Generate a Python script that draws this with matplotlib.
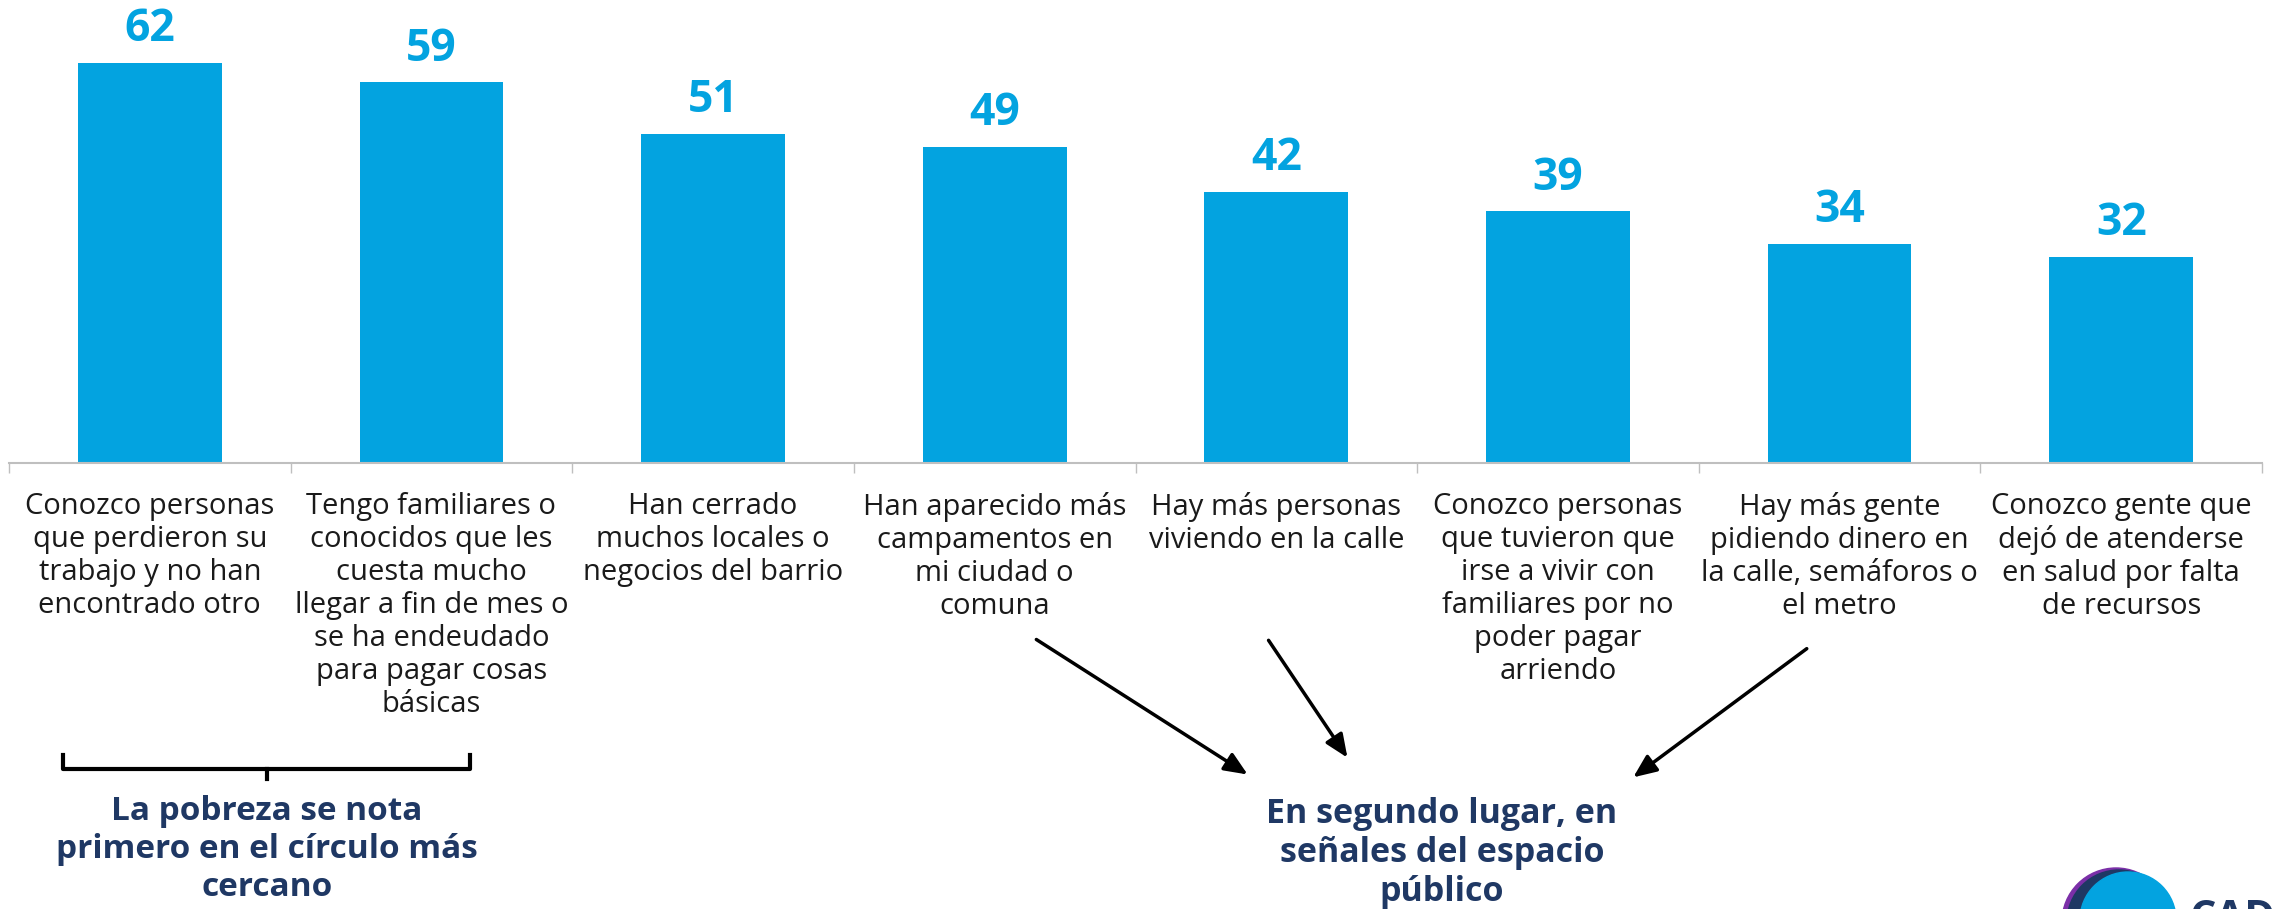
import numpy as np
import matplotlib
matplotlib.use("Agg")
import matplotlib.pyplot as plt
from matplotlib.patches import Circle

# data
categorias = [
    "Conozco personas\nque perdieron su\ntrabajo y no han\nencontrado otro",
    "Tengo familiares o\nconocidos que les\ncuesta mucho\nllegar a fin de mes o\nse ha endeudado\npara pagar cosas\nbásicas",
    "Han cerrado\nmuchos locales o\nnegocios del barrio",
    "Han aparecido más\ncampamentos en\nmi ciudad o\ncomuna",
    "Hay más personas\nviviendo en la calle",
    "Conozco personas\nque tuvieron que\nirse a vivir con\nfamiliares por no\npoder pagar\narriendo",
    "Hay más gente\npidiendo dinero en\nla calle, semáforos o\nel metro",
    "Conozco gente que\ndejó de atenderse\nen salud por falta\nde recursos",
]
valores = [62, 59, 51, 49, 42, 39, 34, 32]

texto_izq = "La pobreza se nota\nprimero en el círculo más\ncercano"
texto_der = "En segundo lugar, en\nseñales del espacio\npúblico"

AZUL = "#03A3E0"
NAVY = "#1F3864"
W, H = 2284, 909

plt.rcParams['font.family'] = ['Open Sans', 'DejaVu Sans']

fig = plt.figure(figsize=(W / 100, H / 100), dpi=100)

def fx(px):
    return px / W

def fy(py):
    return 1 - py / H

# axes: baseline at y=463 px, 6.45 px per unit
y_max = 70
base = 463
top = base - y_max * 6.45
ax = fig.add_axes([fx(9), fy(base), fx(2262) - fx(9), (base - top) / H])

x = np.arange(len(valores))
bars = ax.bar(x, valores, width=0.51, color=AZUL, zorder=2)
ax.set_xlim(-0.5, len(valores) - 0.5)
ax.set_ylim(0, y_max)

for b, v in zip(bars, valores):
    ax.annotate(str(v), (b.get_x() + b.get_width() / 2, v),
                xytext=(0, 24), textcoords="offset points",
                ha="center", va="center", fontsize=32,
                fontweight="bold", color=AZUL)

for s in ["top", "right", "left"]:
    ax.spines[s].set_visible(False)
ax.spines["bottom"].set_color("#BFBFBF")
ax.spines["bottom"].set_linewidth(1.5)
ax.set_yticks([])

ax.set_xticks(np.arange(len(valores) + 1) - 0.5)
ax.set_xticklabels([])
ax.tick_params(axis="x", which="major", length=7, width=1, color="#BFBFBF")
ax.set_xticks(x, minor=True)
ax.set_xticklabels(categorias, minor=True, fontsize=21, color="#1a1a1a",
                   linespacing=1.18, va="top", ha="center")
ax.tick_params(axis="x", which="minor", length=0, pad=21)

# bracket under first two categories
bx0, bx1, by0, by1, bmid = 63, 470, 755, 769, 267
fig.add_artist(plt.Line2D([fx(bx0), fx(bx0), fx(bx1), fx(bx1)],
                          [fy(by0), fy(by1), fy(by1), fy(by0)],
                          color="black", lw=3, solid_joinstyle="round"))
fig.add_artist(plt.Line2D([fx(bmid), fx(bmid)], [fy(by1), fy(779)],
                          color="black", lw=3))

fig.text(fx(267), fy(849), texto_izq, ha="center", va="center",
         fontsize=24, fontweight="bold", color=NAVY, linespacing=1.2)
fig.text(fx(1442), fy(853), texto_der, ha="center", va="center",
         fontsize=24.5, fontweight="bold", color=NAVY, linespacing=1.2)

# arrows
flechas = [((1034, 638), (1250, 776)),
           ((1267, 638), (1349, 760)),
           ((1809, 647), (1631, 779))]
for (x0, y0), (x1, y1) in flechas:
    fig.add_artist(matplotlib.patches.FancyArrowPatch(
        (fx(x0), fy(y0)), (fx(x1), fy(y1)), transform=fig.transFigure,
        arrowstyle="-|>,head_length=14,head_width=6", lw=2.5, color="black",
        mutation_scale=1))

# logo (cut off at the bottom-right corner, as in the reference)
logo_ax = fig.add_axes([0, 0, 1, 1], facecolor="none")
logo_ax.set_xlim(0, W)
logo_ax.set_ylim(H, 0)
logo_ax.axis("off")
logo_ax.add_patch(Circle((2116, 922), 54, color="#7B2FA8", zorder=1))
logo_ax.add_patch(Circle((2119, 922), 52, color=NAVY, zorder=2))
logo_ax.add_patch(Circle((2128, 920), 48, color=AZUL, zorder=3))
logo_ax.text(2190, 899, "CAD", fontsize=30, color=NAVY, fontweight="bold",
             va="top", ha="left")

fig.savefig("out.png", dpi=100, facecolor="white")
